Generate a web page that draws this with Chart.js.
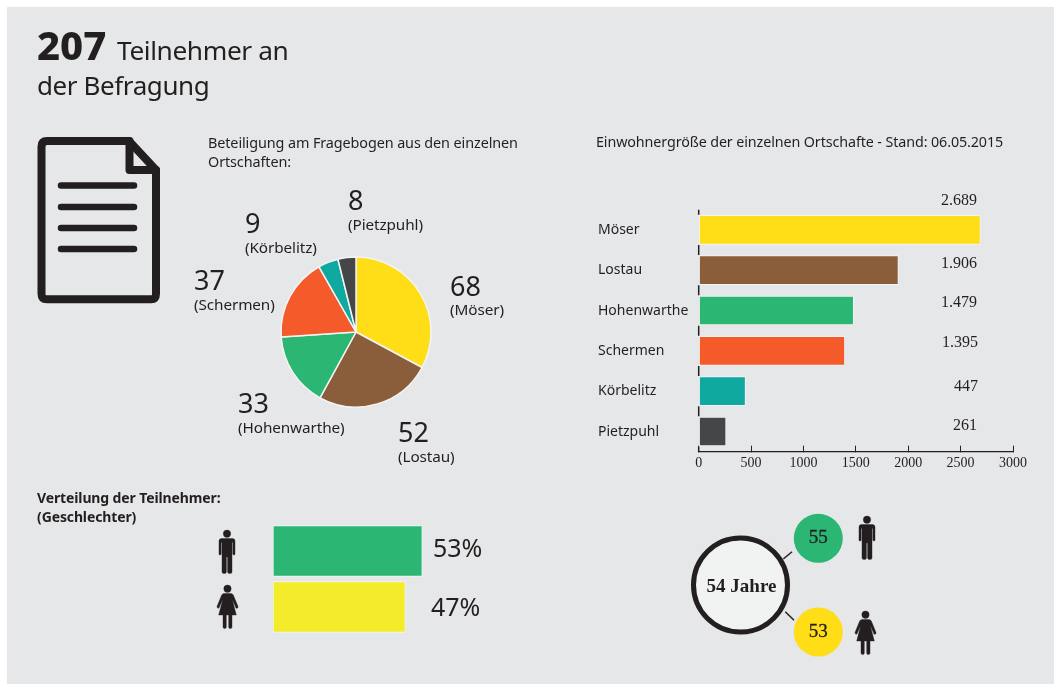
<!DOCTYPE html>
<html lang="de">
<head>
<meta charset="utf-8">
<title>207 Teilnehmer an der Befragung</title>
<script src="https://cdn.jsdelivr.net/npm/chart.js@4/dist/chart.umd.min.js"></script>
<style>
  html, body { margin: 0; padding: 0; background: #fff; }
  #page { position: relative; width: 1054px; height: 684px; overflow: hidden; }
  #panel { position: absolute; left: 7px; top: 7px; width: 1047px; height: 677px; background: #e6e7e8; }
  canvas { position: absolute; }
  #overlay { position: absolute; left: 0; top: 0; }
  #pie { left: 276px; top: 252px; }
  #bars { left: 590px; top: 200px; }
  #gender { left: 273px; top: 523px; }
</style>
</head>
<body>
<div id="page">
  <div id="panel"></div>
  <canvas id="pie" width="160" height="160"></canvas>
  <canvas id="bars" width="446" height="280"></canvas>
  <canvas id="gender" width="169" height="112"></canvas>
  <svg id="overlay" width="1054" height="684" xmlns="http://www.w3.org/2000/svg">
    <defs>
      <g id="man">
        <circle cx="8" cy="3.7" r="3.7"/>
        <path d="M2.5 8.5H13.500Q16 8.500 16 11V24Q16 25 15 25T13.800 24V12.500H13V42Q13 43.500 10.800 43.500T8.600 42V27H7.400V42Q7.400 43.500 5.200 43.500T3 42V12.500H2.200V24Q2.200 25 1 25T0 24V11Q0 8.500 2.500 8.500Z"/>
      </g>
      <g id="woman">
        <circle cx="10.500" cy="3.700" r="3.700"/>
        <path d="M7 8.500H14Q15.500 8.500 16.300 10L21 21.500Q21.400 23 20 23.300T18.600 22L15.300 14.500L19.300 30H15V42Q15 43.500 13.300 43.500T11.700 42V30H9.300V42Q9.300 43.500 7.700 43.500T6 42V30H1.700L5.700 14.500L2.400 22Q1.800 23.600 1 23.300T0 21.500L4.700 10Q5.500 8.500 7 8.500Z"/>
      </g>
    </defs>
    <g fill="none" stroke="#231f20" stroke-linejoin="round" stroke-linecap="round">
      <path stroke-width="8" d="M129 141H47Q41.500 141 41.500 146.500V293.500Q41.500 299.300 47 299.300H151Q156 299.300 156 293.500V170L129 141Z"/>
      <path stroke-width="8" d="M129.500 141V170H156"/>
      <path stroke-width="6.500" d="M61 185.500H134M61 207H134M61 228H134M61 249H134"/>
    </g>
    <g fill="#231f20" stroke="#231f20" stroke-width="0.400">
      <use href="#man" x="219" y="530"/>
      <use href="#woman" x="217" y="585"/>
      <use href="#man" x="859" y="516"/>
      <use href="#woman" x="855" y="611"/>
    </g>
    <g stroke="#231f20" stroke-width="1.500">
      <line x1="783.300" y1="559" x2="792" y2="551.700"/>
      <line x1="785.300" y1="611.700" x2="794" y2="620.300"/>
    </g>
    <circle cx="740.500" cy="585" r="47" fill="#f1f2f2" stroke="#231f20" stroke-width="5"/>
    <circle cx="818.300" cy="538.300" r="24.500" fill="#2bb673"/>
    <circle cx="818.300" cy="632" r="24.500" fill="#ffdd17"/>
    <g id="texts"></g>
  </svg>
</div>
<script>
// Beteiligung / Einwohner je Ortschaft
var orte = ['Möser', 'Lostau', 'Hohenwarthe', 'Schermen', 'Körbelitz', 'Pietzpuhl'];
var teilnehmer = [68, 52, 33, 37, 9, 8];
var einwohner = [2689, 1906, 1479, 1395, 447, 261];
var farben = ['#ffdd17', '#8a5d3b', '#2bb673', '#f45a2a', '#10a99f', '#454648'];
var achsenTicks = [0, 500, 1000, 1500, 2000, 2500, 3000];

// Geschlechter und Durchschnittsalter
var geschlechter = ['Männer', 'Frauen'];
var geschlechterProzent = [53, 47];
var geschlechterFarben = ['#2bb673', '#f4ec2b'];
var gesamtTeilnehmer = 207;
var alterGesamt = 54;
var alterMaenner = 55;
var alterFrauen = 53;

var sans = '"Noto Sans", sans-serif';
var serif = '"Liberation Serif", serif';
var ink = '#231f20';

Chart.defaults.animation = false;
Chart.defaults.responsive = false;
Chart.defaults.plugins.legend.display = false;
Chart.defaults.plugins.tooltip.enabled = false;

new Chart(document.getElementById('pie'), {
  type: 'pie',
  data: {
    labels: orte,
    datasets: [{ data: teilnehmer, backgroundColor: farben, borderColor: '#f4f4f4', borderWidth: 1.5, hoverOffset: 0 }]
  },
  options: { radius: 75 }
});

// kurze senkrechte Striche zwischen den Kategorien
var kategorieStriche = {
  id: 'kategorieStriche',
  afterDraw: function(chart) {
    var y = chart.scales.y, x0 = chart.scales.x.getPixelForValue(0), ctx = chart.ctx;
    var step = (y.bottom - y.top) / orte.length;
    ctx.save();
    ctx.strokeStyle = ink;
    ctx.lineWidth = 1.5;
    ctx.beginPath();
    for (var i = 0; i <= orte.length; i++) {
      var p = y.top + i * step;
      ctx.moveTo(x0, Math.max(p - 5, y.top));
      ctx.lineTo(x0, Math.min(p + 5, y.bottom));
    }
    ctx.stroke();
    ctx.restore();
  }
};

new Chart(document.getElementById('bars'), {
  type: 'bar',
  data: {
    labels: orte,
    datasets: [{
      data: einwohner,
      backgroundColor: farben,
      borderColor: '#f4f4f4',
      borderWidth: 1,
      borderSkipped: false,
      barThickness: 29
    }]
  },
  options: {
    indexAxis: 'y',
    layout: { padding: { left: 8, top: 9.700 } },
    scales: {
      x: {
        min: 0,
        max: 3000,
        afterBuildTicks: function(axis) { axis.ticks = achsenTicks.map(function(v) { return { value: v }; }); },
        afterFit: function(axis) { axis.height = 28.300; },
        grid: { drawOnChartArea: false, color: ink, tickLength: -6 },
        border: { color: ink, width: 1.300 },
        ticks: {
          color: ink,
          padding: 9,
          maxRotation: 0,
          font: { family: serif, size: 14 },
          callback: function(v) { return String(v); }
        }
      },
      y: {
        afterFit: function(axis) { axis.width = 100.700; },
        grid: { display: false },
        border: { display: false },
        ticks: { color: ink, crossAlign: 'far', padding: 0, font: { family: sans, size: 14 } }
      }
    }
  },
  plugins: [kategorieStriche]
});

new Chart(document.getElementById('gender'), {
  type: 'bar',
  data: {
    labels: geschlechter,
    datasets: [{
      data: geschlechterProzent,
      backgroundColor: geschlechterFarben,
      borderColor: '#f4f4f4',
      borderWidth: 1,
      borderSkipped: false,
      barThickness: 51
    }]
  },
  options: {
    indexAxis: 'y',
    scales: {
      x: { display: false, min: 0, max: 60 },
      y: { display: false }
    }
  }
});

// Beschriftungen liegen als SVG-Text ueber den Diagrammen
var textLayer = document.getElementById('texts');
function addText(str, x, y, size, opts) {
  opts = opts || {};
  var t = document.createElementNS('http://www.w3.org/2000/svg', 'text');
  t.textContent = str;
  t.setAttribute('x', x);
  t.setAttribute('y', y);
  t.setAttribute('font-size', size);
  t.setAttribute('font-family', opts.family || sans);
  t.setAttribute('font-weight', opts.weight || 400);
  t.setAttribute('fill', ink);
  t.setAttribute('text-anchor', opts.anchor || 'start');
  if (opts.spacing) t.setAttribute('letter-spacing', opts.spacing);
  if (opts.stroke) { t.setAttribute('stroke', ink); t.setAttribute('stroke-width', opts.stroke); }
  textLayer.appendChild(t);
}

addText(String(gesamtTeilnehmer), 37, 60, 40, { weight: 800 });
addText('Teilnehmer an', 117, 60, 26.300, { spacing: -0.4 });
addText('der Befragung', 37, 95, 26, { spacing: -0.4 });

addText('Beteiligung am Fragebogen aus den einzelnen', 208, 148, 14.400, { spacing: -0.1 });
addText('Ortschaften:', 208, 167, 14.400, { spacing: -0.1 });
addText('Einwohnergröße der einzelnen Ortschafte - Stand: 06.05.2015', 596, 147, 14.300, { spacing: -0.1 });

// Zahl und Name an den Tortenstuecken
var pieLabelX = [450, 398, 238, 194, 245, 348];
var pieZahlY = [296, 442, 413, 290, 233, 210];
var pieNameY = [315, 462, 433, 310, 253, 230];
orte.forEach(function(name, i) {
  addText(String(teilnehmer[i]), pieLabelX[i], pieZahlY[i], 27);
  addText('(' + name + ')', pieLabelX[i], pieNameY[i], 15.300, { spacing: -0.1 });
});

// Einwohnerzahlen rechts neben den Balken
var wertRechts = [977, 977, 977, 978, 978, 977];
var wertY = [205, 268, 307, 347, 391, 430];
einwohner.forEach(function(v, i) {
  addText(v.toLocaleString('de-DE'), wertRechts[i], wertY[i], 16, { family: serif, anchor: 'end' });
});

addText('Verteilung der Teilnehmer:', 37, 503, 14, { weight: 700, spacing: -0.12 });
addText('(Geschlechter)', 37, 522, 14, { weight: 700, spacing: -0.12 });
addText(geschlechterProzent[0] + '%', 433, 557, 25);
addText(geschlechterProzent[1] + '%', 431, 616, 25);

addText(alterGesamt + ' Jahre', 741.500, 592, 19, { family: serif, weight: 700, anchor: 'middle' });
addText(String(alterMaenner), 818.300, 543, 19, { family: serif, anchor: 'middle', stroke: 0.3 });
addText(String(alterFrauen), 818.300, 637, 19, { family: serif, anchor: 'middle', stroke: 0.3 });
</script>
</body>
</html>
